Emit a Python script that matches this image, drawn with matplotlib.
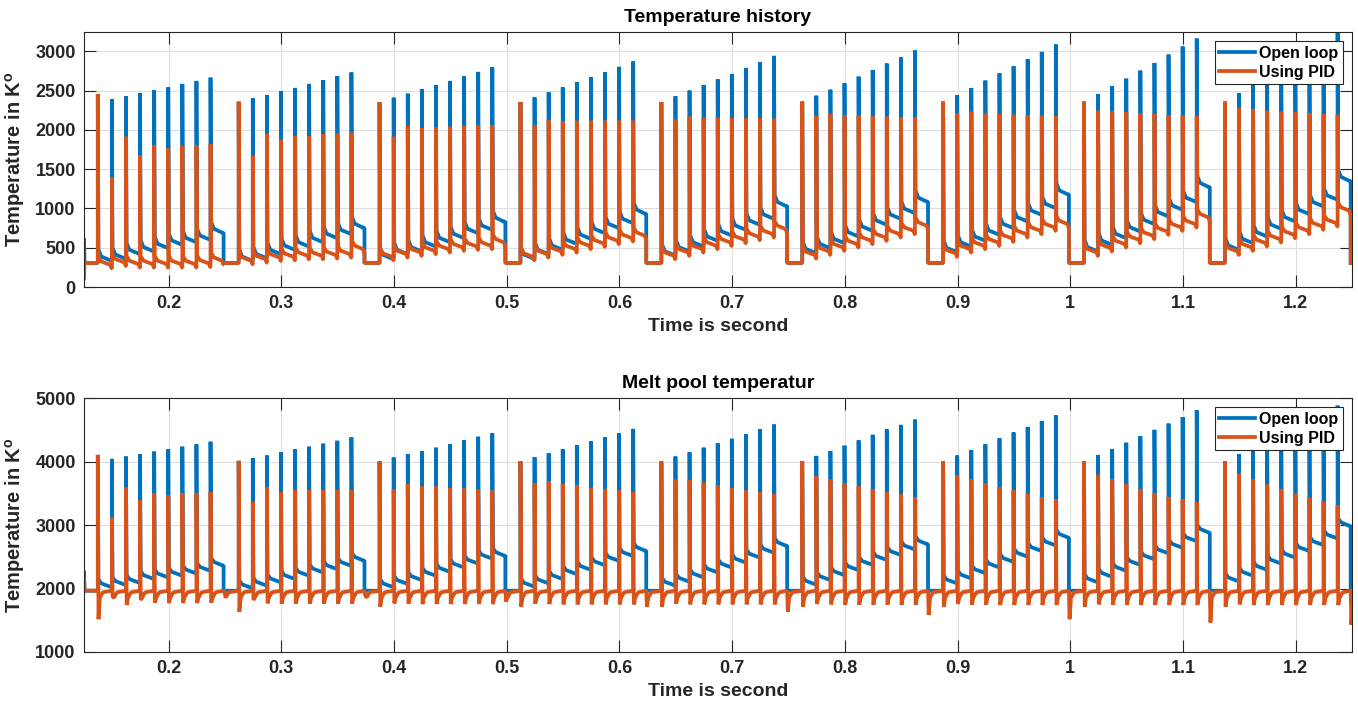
import matplotlib
matplotlib.use('Agg')
import matplotlib.pyplot as plt

# ---- data ----
LAYER_START = [0.125, 0.25, 0.375, 0.5, 0.625, 0.75, 0.875, 1.0, 1.125]
FIRST_PULSE = 0.0122     # first pulse after the layer starts
PITCH = 0.0125           # time between pulses
LAYER_LEN = 0.1238       # where the trace drops back at the layer end

XTICKS = [0.2, 0.3, 0.4, 0.5, 0.6, 0.7, 0.8, 0.9, 1.0, 1.1, 1.2]
XTICK_LABELS = ['0.2', '0.3', '0.4', '0.5', '0.6', '0.7', '0.8', '0.9', '1', '1.1', '1.2']

# temperature history (top)
TOP_BASE = 305
TOP_FIRST_BLUE = 600
TOP_FIRST_ORANGE = 110
top_orange_peak = [
    [2456, 1393, 1912, 1678, 1806, 1763, 1797, 1806, 1818],
    [2357, 1669, 1950, 1874, 1920, 1920, 1941, 1950, 1963],
    [2349, 1912, 2044, 2018, 2035, 2039, 2044, 2052, 2061],
    [2354, 2052, 2120, 2107, 2116, 2116, 2116, 2116, 2116],
    [2354, 2129, 2167, 2150, 2154, 2150, 2146, 2146, 2141],
    [2358, 2179, 2201, 2188, 2179, 2171, 2167, 2158, 2154],
    [2358, 2209, 2230, 2205, 2201, 2192, 2188, 2179, 2171],
    [2358, 2243, 2235, 2222, 2209, 2201, 2188, 2179, 2171],
    [2358, 2277, 2260, 2243, 2230, 2222, 2209, 2201, 2192],
]
top_blue_peak = [
    [2456, 2392, 2426, 2469, 2503, 2541, 2584, 2622, 2664],
    [2357, 2401, 2443, 2490, 2533, 2584, 2631, 2682, 2729],
    [2349, 2409, 2460, 2515, 2571, 2622, 2682, 2737, 2797],
    [2354, 2413, 2477, 2541, 2605, 2669, 2733, 2801, 2869],
    [2354, 2426, 2499, 2571, 2643, 2711, 2788, 2860, 2941],
    [2358, 2434, 2511, 2592, 2677, 2762, 2843, 2924, 3009],
    [2358, 2443, 2532, 2626, 2719, 2809, 2898, 2992, 3085],
    [2358, 2456, 2554, 2651, 2753, 2851, 2957, 3059, 3161],
    [2358, 2465, 2570, 2675, 2780, 2885, 2990, 3095, 3245],
]
# lowest level reached after each pulse (last one = shelf before layer end)
top_blue_low = [
    [338, 364, 424, 458, 500, 543, 576, 606, 691],
    [338, 372, 424, 479, 521, 576, 628, 679, 755],
    [360, 424, 458, 521, 576, 628, 691, 734, 832],
    [364, 424, 479, 555, 619, 691, 755, 819, 934],
    [407, 458, 521, 594, 662, 734, 798, 874, 1032],
    [436, 500, 564, 649, 721, 798, 874, 947, 1087],
    [449, 521, 594, 670, 755, 840, 925, 1010, 1180],
    [458, 543, 628, 713, 806, 904, 989, 1087, 1274],
    [479, 564, 649, 747, 840, 934, 1032, 1117, 1351],
]
top_orange_low = [
    [236, 266, 245, 245, 245, 245, 245, 253, 287],
    [287, 309, 330, 338, 351, 351, 360, 372, 436],
    [338, 372, 394, 415, 436, 458, 470, 479, 521],
    [338, 372, 407, 436, 479, 509, 543, 577, 606],
    [351, 394, 436, 479, 521, 555, 594, 628, 691],
    [360, 407, 458, 500, 543, 585, 628, 670, 734],
    [381, 436, 479, 521, 572, 628, 670, 713, 755],
    [394, 449, 500, 555, 606, 662, 713, 755, 840],
    [407, 458, 513, 564, 619, 670, 726, 768, 925],
]

# melt pool temperature (bottom)
BOT_BASE = 1965
BOT_FIRST_BLUE = 2250
BOT_FIRST_ORANGE = 2150
bot_orange_peak = [
    [4104, 3117, 3595, 3387, 3501, 3470, 3501, 3501, 3517],
    [4010, 3361, 3600, 3517, 3548, 3548, 3548, 3543, 3543],
    [4000, 3558, 3647, 3605, 3605, 3584, 3574, 3558, 3543],
    [4000, 3662, 3688, 3647, 3621, 3584, 3569, 3543, 3512],
    [4000, 3719, 3709, 3667, 3621, 3574, 3543, 3517, 3481],
    [4000, 3766, 3714, 3662, 3610, 3558, 3517, 3481, 3439],
    [4000, 3782, 3725, 3652, 3600, 3543, 3491, 3439, 3403],
    [4000, 3792, 3725, 3647, 3569, 3496, 3444, 3403, 3361],
    [4000, 3808, 3725, 3636, 3569, 3491, 3429, 3366, 3309],
]
bot_blue_peak = [
    [4104, 4042, 4078, 4114, 4156, 4192, 4234, 4270, 4312],
    [4010, 4052, 4094, 4145, 4192, 4234, 4281, 4327, 4379],
    [4000, 4062, 4114, 4166, 4218, 4275, 4332, 4390, 4442],
    [4000, 4068, 4130, 4192, 4255, 4317, 4379, 4447, 4514],
    [4000, 4078, 4145, 4218, 4286, 4358, 4431, 4509, 4582],
    [4000, 4088, 4166, 4249, 4332, 4421, 4504, 4577, 4660],
    [4000, 4094, 4182, 4270, 4364, 4457, 4545, 4639, 4727],
    [4000, 4104, 4197, 4296, 4400, 4499, 4597, 4701, 4805],
    [4000, 4114, 4210, 4310, 4415, 4520, 4625, 4740, 4880],
]
bot_blue_low = [
    [2026, 2062, 2094, 2156, 2182, 2208, 2244, 2286, 2364],
    [2010, 2052, 2104, 2156, 2208, 2260, 2312, 2364, 2442],
    [2026, 2078, 2140, 2208, 2270, 2338, 2400, 2478, 2519],
    [2036, 2088, 2156, 2234, 2301, 2374, 2442, 2519, 2597],
    [2052, 2114, 2182, 2260, 2338, 2416, 2494, 2571, 2675],
    [2067, 2140, 2218, 2296, 2379, 2457, 2535, 2623, 2701],
    [2088, 2166, 2249, 2338, 2426, 2509, 2597, 2686, 2805],
    [2104, 2192, 2286, 2379, 2468, 2561, 2649, 2753, 2883],
    [2119, 2208, 2301, 2400, 2494, 2597, 2691, 2795, 2987],
]
# undershoot after each pulse (last one = at the layer end)
bot_orange_dip = [
    [1517, 1870, 1740, 1818, 1777, 1770, 1770, 1770, 1777, 1960],
    [1636, 1818, 1766, 1760, 1760, 1760, 1760, 1760, 1760, 1896],
    [1714, 1766, 1760, 1755, 1755, 1755, 1755, 1755, 1755, 1792],
    [1714, 1760, 1755, 1750, 1750, 1750, 1750, 1750, 1750, 1714],
    [1714, 1760, 1750, 1750, 1750, 1750, 1750, 1750, 1750, 1636],
    [1714, 1755, 1750, 1745, 1745, 1745, 1745, 1745, 1745, 1584],
    [1714, 1755, 1745, 1745, 1740, 1740, 1740, 1740, 1740, 1517],
    [1714, 1750, 1745, 1740, 1740, 1740, 1740, 1740, 1740, 1465],
    [1714, 1750, 1740, 1740, 1740, 1740, 1740, 1740, 1740, 1430],
]

BLUE = '#0072BD'
ORANGE = '#D95319'
DARK = '#262626'


def decay_trace(peaks, lows, base, first, hi, knee, vee):
    # spike, fast fall, slow decay down to the next low
    t = [LAYER_START[0], LAYER_START[0] + 0.0004]
    v = [first, base]
    for k, s in enumerate(LAYER_START):
        for i in range(9):
            tp = s + FIRST_PULSE + i * PITCH
            tn = tp + PITCH if i < 8 else s + LAYER_LEN
            low = lows[k][i]
            t += [tp, tp, tp + 0.0005, tp + 0.003, tn - 0.0012, tn - 0.0003]
            v += [v[-1], peaks[k][i], low + hi, low + knee, low + vee, low]
        t += [s + LAYER_LEN, s + LAYER_LEN]
        v += [lows[k][8], base]
    return t, v


def dip_trace(peaks, dips, base, first):
    # controlled trace: spike, undershoot, back to the set point
    t = [LAYER_START[0], LAYER_START[0] + 0.0004]
    v = [first, base]
    for k, s in enumerate(LAYER_START):
        for i in range(10):
            if i < 9:
                tp = s + FIRST_PULSE + i * PITCH
                pk = peaks[k][i]
            else:
                tp = s + LAYER_LEN
                pk = base
            t += [tp, tp, tp + 0.0006, tp + 0.0018, tp + 0.0045]
            v += [base, pk, dips[k][i], base - 110, base - 25]
    t.append(1.25)
    v.append(base)
    return t, v


plt.rcParams['font.family'] = ['Liberation Sans', 'DejaVu Sans']
plt.rcParams['font.weight'] = 'bold'
plt.rcParams['mathtext.fontset'] = 'custom'
plt.rcParams['mathtext.rm'] = 'Liberation Sans:bold'
plt.rcParams['mathtext.bf'] = 'Liberation Sans:bold'

fig = plt.figure(figsize=(13.58, 7.09), dpi=100)
ax1 = fig.add_axes([0.0619, 0.5952, 0.9337, 0.3597])
ax2 = fig.add_axes([0.0619, 0.0804, 0.9337, 0.3582])

line_kw = dict(lw=2.7, solid_joinstyle='bevel')

t, v = decay_trace(top_blue_peak, top_blue_low, TOP_BASE, TOP_FIRST_BLUE, 140, 50, 0)
ax1.plot(t, v, color=BLUE, label='Open loop', **line_kw)
t, v = decay_trace(top_orange_peak, top_orange_low, TOP_BASE, TOP_FIRST_ORANGE, 150, 90, 45)
ax1.plot(t, v, color=ORANGE, label='Using PID', **line_kw)

t, v = decay_trace(bot_blue_peak, bot_blue_low, BOT_BASE, BOT_FIRST_BLUE, 120, 55, 0)
ax2.plot(t, v, color=BLUE, label='Open loop', **line_kw)
t, v = dip_trace(bot_orange_peak, bot_orange_dip, BOT_BASE, BOT_FIRST_ORANGE)
ax2.plot(t, v, color=ORANGE, label='Using PID', **line_kw)

ax1.set_ylim(0, 3245)
ax1.set_yticks([0, 500, 1000, 1500, 2000, 2500, 3000])
ax2.set_ylim(1000, 5000)
ax2.set_yticks([1000, 2000, 3000, 4000, 5000])

titles = ['Temperature history', 'Melt pool temperatur']
for ax, title in zip([ax1, ax2], titles):
    ax.set_xlim(0.125, 1.25)
    ax.set_xticks(XTICKS)
    ax.set_xticklabels(XTICK_LABELS)
    ax.grid(True, color='#dedede', lw=0.8)
    ax.set_axisbelow(True)
    ax.tick_params(direction='in', length=8.5, width=0.8, top=True, right=True,
                   labelsize=13, colors=DARK, pad=6)
    for sp in ax.spines.values():
        sp.set_color(DARK)
        sp.set_linewidth(0.8)
    ax.set_title(title, fontsize=14, fontweight='bold', color='black', pad=7)
    ax.set_xlabel('Time is second', fontsize=14, fontweight='bold', color=DARK, labelpad=4)
    ax.set_ylabel(r'Temperature in K$^{\mathbf{o}}$', fontsize=14.5, fontweight='bold',
                  color=DARK, labelpad=6)
    leg = ax.legend(loc='upper right', fontsize=11.5, fancybox=False, framealpha=1,
                    edgecolor=DARK, borderaxespad=0.55, handlelength=2.2,
                    handletextpad=0.3, borderpad=0.3, labelspacing=0.25)
    leg.get_frame().set_linewidth(0.8)
    for txt in leg.get_texts():
        txt.set_fontweight('bold')

fig.savefig('out.png', dpi=100, facecolor='white')
